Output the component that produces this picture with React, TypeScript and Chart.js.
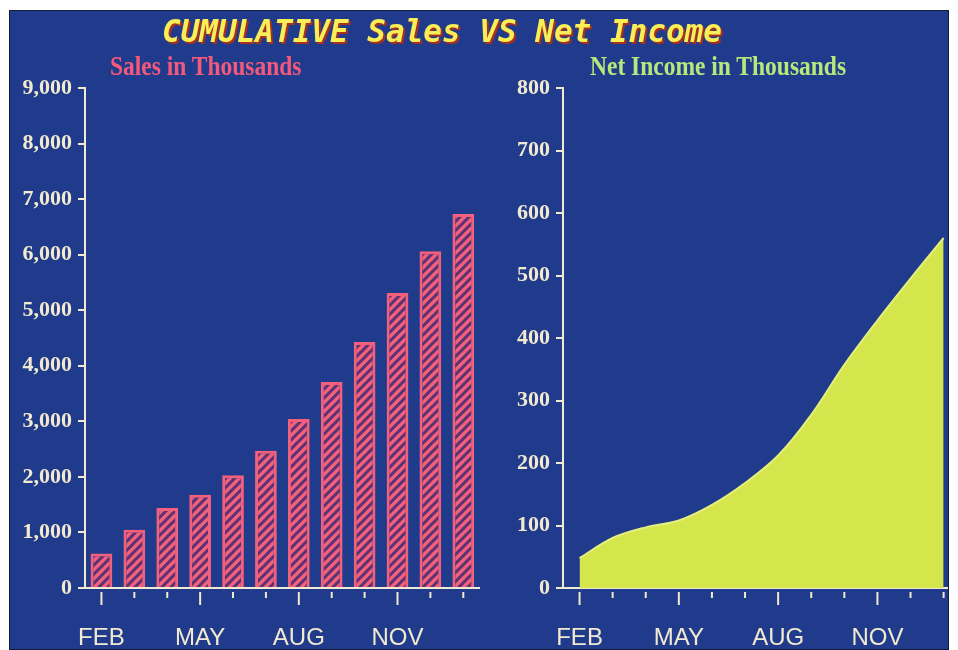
import React, { useEffect, useRef } from "react";
import { Chart, registerables } from "chart.js";

Chart.register(...registerables);

// ---- data ----
const months = ["FEB", "MAR", "APR", "MAY", "JUN", "JUL", "AUG", "SEP", "OCT", "NOV", "DEC", "JAN"];
const labeledMonths = ["FEB", "MAY", "AUG", "NOV"];
const salesThousands = [620, 1050, 1440, 1680, 2030, 2470, 3040, 3710, 4430, 5310, 6060, 6730];
const netIncomeThousands = [48, 80, 97, 108, 133, 168, 212, 277, 357, 428, 495, 560];
const salesMax = 9000;
const salesStep = 1000;
const incomeMax = 800;
const incomeStep = 100;

const titleText = "CUMULATIVE Sales VS Net Income";
const salesTitle = "Sales in Thousands";
const incomeTitle = "Net Income in Thousands";

// ---- styles ----
const PANEL = "#213b8c";
const CREAM = "#f1ead0";
const PINK = "#f2607c";
const HATCH_DARK = "#5a3274";
const AREA = "#d5e54c";
const AREA_EDGE = "#e4ef7c";
const X_FONT = '"Liberation Sans Narrow", "Liberation Sans", sans-serif';
const Y_FONT = '"Liberation Serif", serif';

function makeHatch(): CanvasPattern | string {
  const size = 9;
  const c = document.createElement("canvas");
  c.width = size;
  c.height = size;
  const g = c.getContext("2d");
  if (!g) return PINK;
  g.fillStyle = PINK;
  g.fillRect(0, 0, size, size);
  g.strokeStyle = HATCH_DARK;
  g.lineWidth = 3;
  g.beginPath();
  g.moveTo(-2, size + 2);
  g.lineTo(size + 2, -2);
  g.moveTo(-3, 3);
  g.lineTo(3, -3);
  g.moveTo(size - 3, size + 3);
  g.lineTo(size + 3, size - 3);
  g.stroke();
  return g.createPattern(c, "repeat") || PINK;
}

const xTickMarks = {
  id: "xTickMarks",
  afterDraw(chart: any) {
    const xs = chart.scales.x;
    const ctx = chart.ctx;
    ctx.save();
    ctx.strokeStyle = CREAM;
    ctx.lineWidth = 2;
    const y0 = xs.top + 4;
    months.forEach((m, i) => {
      const x = xs.getPixelForValue(i);
      const len = labeledMonths.includes(m) ? 13 : 6;
      ctx.beginPath();
      ctx.moveTo(x, y0);
      ctx.lineTo(x, y0 + len);
      ctx.stroke();
    });
    ctx.restore();
  },
};

function xScale() {
  return {
    offset: true,
    grid: { display: false, drawTicks: false },
    border: { display: true, color: CREAM, width: 2 },
    ticks: {
      color: CREAM,
      font: { family: X_FONT, size: 24 },
      autoSkip: false,
      maxRotation: 0,
      minRotation: 0,
      padding: 36,
      callback: (_v: any, i: number) => (labeledMonths.includes(months[i]) ? months[i] : ""),
    },
    afterFit: (s: any) => {
      s.height = 62;
    },
  };
}

function yScale(max: number, step: number, width: number, fmt: (v: number) => string) {
  return {
    min: 0,
    max,
    ticks: {
      stepSize: step,
      color: CREAM,
      font: { family: Y_FONT, size: 22, weight: "bold" },
      padding: 6,
      callback: (v: any) => fmt(Number(v)),
    },
    grid: { drawOnChartArea: false, color: CREAM, lineWidth: 2, tickLength: 7 },
    border: { display: true, color: CREAM, width: 2 },
    afterFit: (s: any) => {
      s.width = width;
    },
  };
}

export default function App() {
  const leftRef = useRef<HTMLCanvasElement | null>(null);
  const rightRef = useRef<HTMLCanvasElement | null>(null);

  useEffect(() => {
    if (!leftRef.current || !rightRef.current) return;
    const hatch = makeHatch();
    const left = new Chart(leftRef.current, {
      type: "bar",
      data: {
        labels: months,
        datasets: [
          {
            data: salesThousands,
            backgroundColor: hatch as any,
            borderColor: PINK,
            borderWidth: 3,
            barPercentage: 0.66,
            categoryPercentage: 1,
          },
        ],
      },
      options: {
        animation: false,
        responsive: false,
        maintainAspectRatio: false,
        layout: { padding: { top: 78, right: 17, left: 0, bottom: 0 } },
        plugins: { legend: { display: false }, tooltip: { enabled: false }, title: { display: false } },
        scales: {
          x: xScale() as any,
          y: yScale(salesMax, salesStep, 75, (v) => v.toLocaleString("en-US")) as any,
        },
      },
      plugins: [xTickMarks],
    });

    const right = new Chart(rightRef.current, {
      type: "line",
      data: {
        labels: months,
        datasets: [
          {
            data: netIncomeThousands,
            fill: "origin",
            backgroundColor: AREA,
            borderColor: AREA_EDGE,
            borderWidth: 2,
            pointRadius: 0,
            cubicInterpolationMode: "monotone",
          },
        ],
      },
      options: {
        animation: false,
        responsive: false,
        maintainAspectRatio: false,
        layout: { padding: { top: 78, right: 9, left: 0, bottom: 0 } },
        plugins: { legend: { display: false }, tooltip: { enabled: false }, title: { display: false } },
        scales: {
          x: xScale() as any,
          y: yScale(incomeMax, incomeStep, 63, (v) => String(v)) as any,
        },
      },
      plugins: [xTickMarks],
    });

    return () => {
      left.destroy();
      right.destroy();
    };
  }, []);

  const subtitleBase: React.CSSProperties = {
    position: "absolute",
    top: 40,
    fontFamily: '"Liberation Serif", serif',
    fontWeight: "bold",
    fontSize: 27,
    lineHeight: "30px",
    transform: "scaleX(0.87)",
    transformOrigin: "left center",
    whiteSpace: "nowrap",
  };

  return (
    <div
      style={{
        position: "absolute",
        left: 0,
        top: 0,
        width: 958,
        height: 650,
        background: "#ffffff",
        overflow: "hidden",
      }}
    >
      <div
        style={{
          position: "absolute",
          left: 9,
          top: 10,
          width: 940,
          height: 640,
          background: PANEL,
          border: "1px solid #141a3a",
          boxSizing: "border-box",
          overflow: "hidden",
        }}
      >
        <canvas
          ref={leftRef}
          width={490}
          height={640}
          style={{ position: "absolute", left: 0, top: -1, width: 490, height: 640 }}
        />
        <canvas
          ref={rightRef}
          width={480}
          height={640}
          style={{ position: "absolute", left: 490, top: -1, width: 480, height: 640 }}
        />
        <div
          style={{
            position: "absolute",
            left: 152,
            top: 3,
            fontFamily: '"DejaVu Sans Mono", monospace',
            fontWeight: "bold",
            fontStyle: "italic",
            fontSize: 31,
            lineHeight: "34px",
            color: "#f8ee55",
            textShadow: "2px 2px 0 #a8301e",
            whiteSpace: "nowrap",
          }}
        >
          {titleText}
        </div>
        <div style={{ ...subtitleBase, left: 100, color: "#f4587a" }}>{salesTitle}</div>
        <div style={{ ...subtitleBase, left: 580, color: "#b6e87c" }}>{incomeTitle}</div>
      </div>
    </div>
  );
}
